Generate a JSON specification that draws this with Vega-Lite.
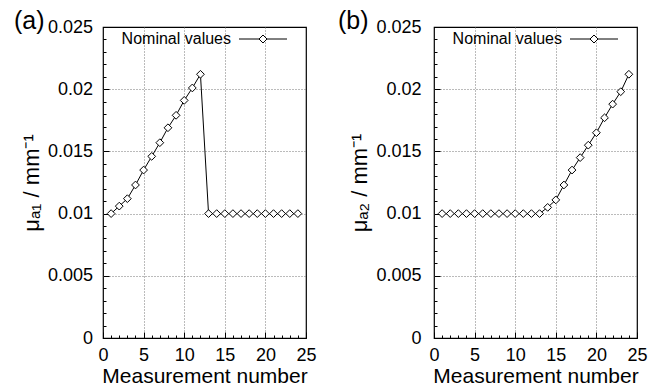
{
  "$schema": "https://vega.github.io/schema/vega-lite/v6.json",
  "background": "white",
  "padding": {"left": 13, "top": 8, "right": 5, "bottom": 0},
  "config": {
    "font": "Liberation Sans",
    "view": {"stroke": "black", "strokeWidth": 1.2},
    "axis": {
      "labelColor": "black",
      "titleColor": "black",
      "titleFontWeight": "normal",
      "labelFontSize": 18,
      "titleFontSize": 21,
      "tickColor": "black",
      "tickWidth": 1,
      "domain": false,
      "grid": true,
      "gridColor": "#777777",
      "gridDash": [1, 2],
      "gridWidth": 1,
      "labelOverlap": false,
      "labelFlush": false
    },
    "legend": {"labelColor": "black", "labelFontSize": 16}
  },
  "datasets": {
    "a": [
      {"n": 1, "mu": 0.01, "s": "Nominal values"},
      {"n": 2, "mu": 0.0106, "s": "Nominal values"},
      {"n": 3, "mu": 0.0112, "s": "Nominal values"},
      {"n": 4, "mu": 0.0123, "s": "Nominal values"},
      {"n": 5, "mu": 0.0135, "s": "Nominal values"},
      {"n": 6, "mu": 0.0146, "s": "Nominal values"},
      {"n": 7, "mu": 0.0157, "s": "Nominal values"},
      {"n": 8, "mu": 0.0169, "s": "Nominal values"},
      {"n": 9, "mu": 0.0179, "s": "Nominal values"},
      {"n": 10, "mu": 0.0191, "s": "Nominal values"},
      {"n": 11, "mu": 0.0201, "s": "Nominal values"},
      {"n": 12, "mu": 0.0212, "s": "Nominal values"},
      {"n": 13, "mu": 0.01, "s": "Nominal values"},
      {"n": 14, "mu": 0.01, "s": "Nominal values"},
      {"n": 15, "mu": 0.01, "s": "Nominal values"},
      {"n": 16, "mu": 0.01, "s": "Nominal values"},
      {"n": 17, "mu": 0.01, "s": "Nominal values"},
      {"n": 18, "mu": 0.01, "s": "Nominal values"},
      {"n": 19, "mu": 0.01, "s": "Nominal values"},
      {"n": 20, "mu": 0.01, "s": "Nominal values"},
      {"n": 21, "mu": 0.01, "s": "Nominal values"},
      {"n": 22, "mu": 0.01, "s": "Nominal values"},
      {"n": 23, "mu": 0.01, "s": "Nominal values"},
      {"n": 24, "mu": 0.01, "s": "Nominal values"}
    ],
    "b": [
      {"n": 1, "mu": 0.01, "s": "Nominal values"},
      {"n": 2, "mu": 0.01, "s": "Nominal values"},
      {"n": 3, "mu": 0.01, "s": "Nominal values"},
      {"n": 4, "mu": 0.01, "s": "Nominal values"},
      {"n": 5, "mu": 0.01, "s": "Nominal values"},
      {"n": 6, "mu": 0.01, "s": "Nominal values"},
      {"n": 7, "mu": 0.01, "s": "Nominal values"},
      {"n": 8, "mu": 0.01, "s": "Nominal values"},
      {"n": 9, "mu": 0.01, "s": "Nominal values"},
      {"n": 10, "mu": 0.01, "s": "Nominal values"},
      {"n": 11, "mu": 0.01, "s": "Nominal values"},
      {"n": 12, "mu": 0.01, "s": "Nominal values"},
      {"n": 13, "mu": 0.01, "s": "Nominal values"},
      {"n": 14, "mu": 0.0105, "s": "Nominal values"},
      {"n": 15, "mu": 0.0111, "s": "Nominal values"},
      {"n": 16, "mu": 0.0123, "s": "Nominal values"},
      {"n": 17, "mu": 0.0135, "s": "Nominal values"},
      {"n": 18, "mu": 0.0145, "s": "Nominal values"},
      {"n": 19, "mu": 0.0155, "s": "Nominal values"},
      {"n": 20, "mu": 0.0165, "s": "Nominal values"},
      {"n": 21, "mu": 0.0177, "s": "Nominal values"},
      {"n": 22, "mu": 0.0188, "s": "Nominal values"},
      {"n": 23, "mu": 0.0198, "s": "Nominal values"},
      {"n": 24, "mu": 0.0212, "s": "Nominal values"}
    ]
  },
  "spacing": 20,
  "resolve": {"scale": {"stroke": "independent"}, "legend": {"stroke": "independent"}},
  "hconcat": [
    {
      "width": 203,
      "height": 311,
      "title": {"text": "(a)", "anchor": "start", "frame": "group", "orient": "top", "offset": 0, "baseline": "alphabetic", "dx": -89, "dy": 36, "fontSize": 25, "fontWeight": "normal", "color": "black"},
      "data": {"name": "a"},
      "encoding": {
        "x": {
          "field": "n", "type": "quantitative",
          "scale": {"domain": [0, 25], "nice": false, "zero": false},
          "axis": {
            "title": "Measurement number",
            "values": [0,1,2,3,4,5,6,7,8,9,10,11,12,13,14,15,16,17,18,19,20,21,22,23,24,25],
            "labelExpr": "datum.value % 5 === 0 ? datum.label : ''",
            "tickSize": {"condition": {"test": "datum.value % 5 === 0", "value": -6}, "value": -3},
            "gridOpacity": {"condition": {"test": "datum.value % 5 === 0 && datum.value > 0 && datum.value < 25", "value": 1}, "value": 0},
            "labelPadding": 14.5,
            "titlePadding": -2.5
          }
        },
        "y": {
          "field": "mu", "type": "quantitative",
          "scale": {"domain": [0, 0.025], "nice": false},
          "axis": {
            "title": "μₐ₁ / mm⁻¹",
            "titleFontSize": 22,
            "values": [0,0.001,0.002,0.003,0.004,0.005,0.006,0.007,0.008,0.009,0.01,0.011,0.012,0.013,0.014,0.015,0.016,0.017,0.018,0.019,0.02,0.021,0.022,0.023,0.024,0.025],
            "labelExpr": "round(datum.value*1000) % 5 === 0 ? format(datum.value, '~g') : ''",
            "tickSize": {"condition": {"test": "round(datum.value*1000) % 5 === 0", "value": -6}, "value": -3},
            "gridOpacity": {"condition": {"test": "round(datum.value*1000) % 5 === 0 && datum.value > 0 && datum.value < 0.0245", "value": 1}, "value": 0},
            "labelPadding": 16.5,
            "titlePadding": 4
          }
        }
      },
      "layer": [
        {"mark": {"type": "line", "color": "black", "strokeWidth": 1}},
        {
          "mark": {"type": "point", "shape": "diamond", "filled": true, "fill": "white", "strokeWidth": 1, "size": 60, "opacity": 1},
          "encoding": {
            "stroke": {
              "field": "s", "type": "nominal",
              "scale": {"range": ["black"]},
              "legend": {
                "title": null,
                "orient": "none",
                "legendX": 152,
                "legendY": 4,
                "symbolType": "M-6,0L-1,0M1,0L6,0M0,-1L1,0L0,1L-1,0Z",
                "symbolSize": 64,
                "symbolFillColor": "white",
                "symbolStrokeColor": "black",
                "symbolStrokeWidth": 1,
                "labelAlign": "right",
                "labelOffset": -40
              }
            }
          }
        }
      ]
    },
    {
      "width": 203,
      "height": 311,
      "title": {"text": "(b)", "anchor": "start", "frame": "group", "orient": "top", "offset": 0, "baseline": "alphabetic", "dx": -96, "dy": 36, "fontSize": 25, "fontWeight": "normal", "color": "black"},
      "data": {"name": "b"},
      "encoding": {
        "x": {
          "field": "n", "type": "quantitative",
          "scale": {"domain": [0, 25], "nice": false, "zero": false},
          "axis": {
            "title": "Measurement number",
            "values": [0,1,2,3,4,5,6,7,8,9,10,11,12,13,14,15,16,17,18,19,20,21,22,23,24,25],
            "labelExpr": "datum.value % 5 === 0 ? datum.label : ''",
            "tickSize": {"condition": {"test": "datum.value % 5 === 0", "value": -6}, "value": -3},
            "gridOpacity": {"condition": {"test": "datum.value % 5 === 0 && datum.value > 0 && datum.value < 25", "value": 1}, "value": 0},
            "labelPadding": 14.5,
            "titlePadding": -2.5
          }
        },
        "y": {
          "field": "mu", "type": "quantitative",
          "scale": {"domain": [0, 0.025], "nice": false},
          "axis": {
            "title": "μₐ₂ / mm⁻¹",
            "titleFontSize": 22,
            "values": [0,0.001,0.002,0.003,0.004,0.005,0.006,0.007,0.008,0.009,0.01,0.011,0.012,0.013,0.014,0.015,0.016,0.017,0.018,0.019,0.02,0.021,0.022,0.023,0.024,0.025],
            "labelExpr": "round(datum.value*1000) % 5 === 0 ? format(datum.value, '~g') : ''",
            "tickSize": {"condition": {"test": "round(datum.value*1000) % 5 === 0", "value": -6}, "value": -3},
            "gridOpacity": {"condition": {"test": "round(datum.value*1000) % 5 === 0 && datum.value > 0 && datum.value < 0.0245", "value": 1}, "value": 0},
            "labelPadding": 19,
            "titlePadding": 4
          }
        }
      },
      "layer": [
        {"mark": {"type": "line", "color": "black", "strokeWidth": 1}},
        {
          "mark": {"type": "point", "shape": "diamond", "filled": true, "fill": "white", "strokeWidth": 1, "size": 60, "opacity": 1},
          "encoding": {
            "stroke": {
              "field": "s", "type": "nominal",
              "scale": {"range": ["black"]},
              "legend": {
                "title": null,
                "orient": "none",
                "legendX": 152,
                "legendY": 4,
                "symbolType": "M-6,0L-1,0M1,0L6,0M0,-1L1,0L0,1L-1,0Z",
                "symbolSize": 64,
                "symbolFillColor": "white",
                "symbolStrokeColor": "black",
                "symbolStrokeWidth": 1,
                "labelAlign": "right",
                "labelOffset": -40
              }
            }
          }
        }
      ]
    }
  ]
}
